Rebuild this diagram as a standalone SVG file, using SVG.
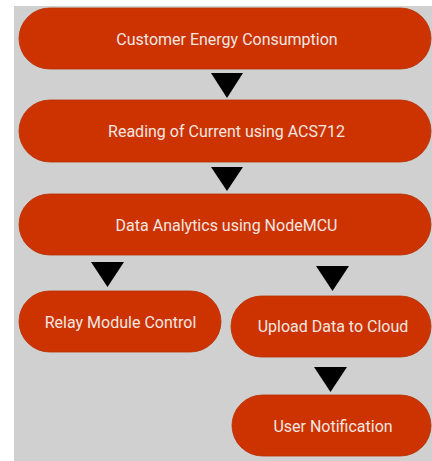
<svg xmlns="http://www.w3.org/2000/svg" width="432" height="461" viewBox="0 0 432 461">
  <style>
    .box { fill: #cc3300; stroke: #b83000; stroke-width: 0.8; }
    .label { font-family: Roboto, "Open Sans", "Liberation Sans", sans-serif; font-size: 16px; fill: #f2e6e2; text-anchor: middle; }
    .arrow { fill: #000000; }
  </style>
  <rect x="0" y="0" width="432" height="461" fill="#ffffff"/>
  <rect x="14" y="6" width="418" height="455" fill="#d0d0d0"/>

  <g id="connectors">
    <polygon class="arrow" points="211,73 243,73 227,98"/>
    <polygon class="arrow" points="211,167 243,167 227,191"/>
    <polygon class="arrow" points="91,262 124,262 107.5,287"/>
    <polygon class="arrow" points="316,266 349,266 332.5,291"/>
    <polygon class="arrow" points="314,367 347,367 330.5,392"/>
  </g>

  <g id="node-consumption">
    <rect class="box" x="19" y="8" width="412" height="61" rx="30.5"/>
    <text class="label" x="227" y="44.5">Customer Energy Consumption</text>
  </g>
  <g id="node-reading">
    <rect class="box" x="19" y="100" width="412" height="62" rx="31"/>
    <text class="label" x="226.5" y="137">Reading of Current using ACS712</text>
  </g>
  <g id="node-analytics">
    <rect class="box" x="19" y="194" width="412" height="61" rx="30.5"/>
    <text class="label" x="226.5" y="231">Data Analytics using NodeMCU</text>
  </g>
  <g id="node-relay">
    <rect class="box" x="19" y="291" width="202" height="61" rx="30.5"/>
    <text class="label" x="120.5" y="327.5">Relay Module Control</text>
  </g>
  <g id="node-upload">
    <rect class="box" x="231" y="296" width="200" height="61" rx="30.5"/>
    <text class="label" x="333" y="332">Upload Data to Cloud</text>
  </g>
  <g id="node-notification">
    <rect class="box" x="232" y="395" width="199" height="61" rx="30.5"/>
    <text class="label" x="333" y="432">User Notification</text>
  </g>
</svg>
